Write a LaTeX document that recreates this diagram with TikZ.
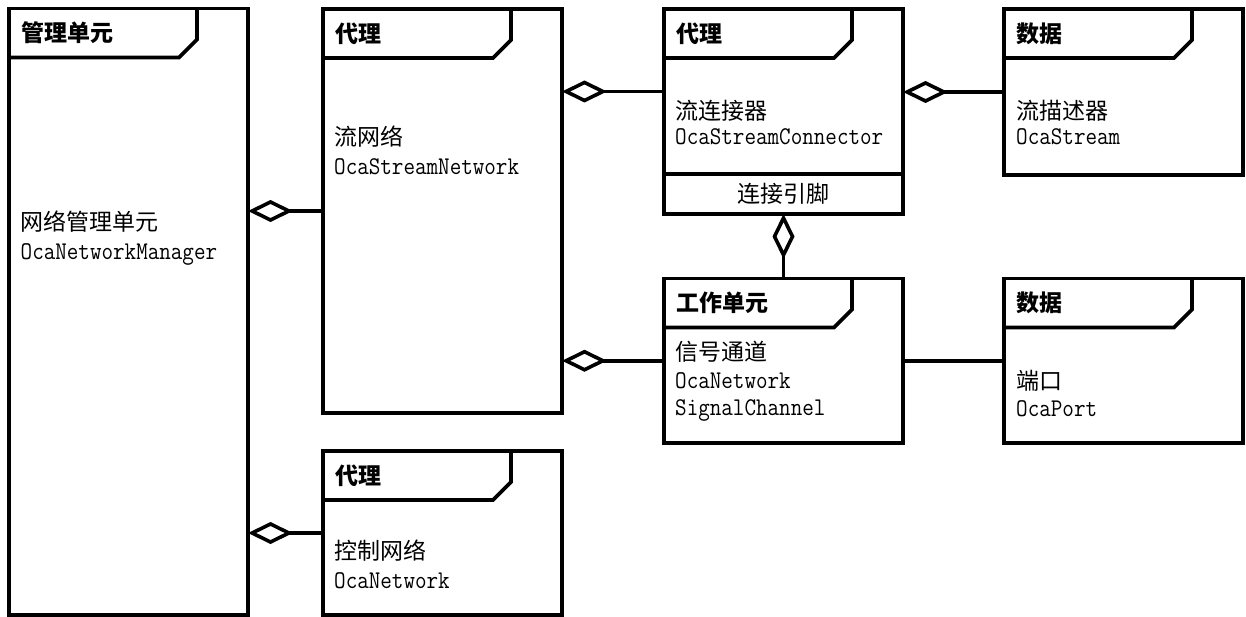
\documentclass[tikz,border=0pt]{standalone}
\usepackage{fontspec}
\newfontfamily\zhfont{Noto Sans CJK SC}
\usetikzlibrary{arrows.meta, positioning}
% narrow mono for class names
\newcommand\narrowtt[1]{\scalebox{0.88}[1]{#1}}

\begin{document}
\begin{tikzpicture}[x=1pt, y=-1pt,
  box/.style={draw, line width=3.6pt, minimum width=239pt, inner sep=0pt, outer sep=0pt, anchor=north west},
  link/.style={line width=3.6pt},
  agg/.style={line width=3.6pt, -{Diamond[open, length=45pt, width=22pt]}},
  headtxt/.style={font=\zhfont\bfseries\fontsize{23}{23}\selectfont, inner sep=0pt, anchor=west},
  zhtxt/.style={font=\zhfont\fontsize{23}{23}\selectfont, inner sep=0pt, anchor=base west},
  entxt/.style={font=\ttfamily\fontsize{25.5}{25.5}\selectfont, inner sep=0pt, anchor=base west}]
\useasboundingbox (0,0) rectangle (1246,617);

% class frames
\node[box, minimum height=606.5pt] (mgr) at (9,8.5) {};
\node[box, minimum height=404pt] (strnet) at (323,9) {};
\node[box, minimum height=164pt] (ctlnet) at (323,451) {};
\node[box, minimum height=165pt] (conn) at (664,9) {};
\node[box, minimum height=40pt, below=0pt of conn, font=\zhfont\fontsize{23}{23}\selectfont] (pins) {连接引脚};
\node[box, minimum height=166pt] (strdesc) at (1004,9) {};
\node[box, minimum height=164.5pt] (chan) at (664,278.5) {};
\node[box, minimum height=164.5pt] (port) at (1004,278.5) {};

% name tabs
\draw[link] ([xshift=188pt]mgr.north west) -- ++(0,31) -- ++(-18,18) -- ([yshift=-49pt]mgr.north west);
\draw[link] ([xshift=188pt]strnet.north west) -- ++(0,31) -- ++(-18,18) -- ([yshift=-49pt]strnet.north west);
\draw[link] ([xshift=188pt]ctlnet.north west) -- ++(0,31) -- ++(-18,18) -- ([yshift=-49pt]ctlnet.north west);
\draw[link] ([xshift=188pt]conn.north west) -- ++(0,31) -- ++(-18,18) -- ([yshift=-49pt]conn.north west);
\draw[link] ([xshift=188pt]strdesc.north west) -- ++(0,31) -- ++(-18,18) -- ([yshift=-49pt]strdesc.north west);
\draw[link] ([xshift=188pt]chan.north west) -- ++(0,31) -- ++(-18,18) -- ([yshift=-49pt]chan.north west);
\draw[link] ([xshift=188pt]port.north west) -- ++(0,31) -- ++(-18,18) -- ([yshift=-49pt]port.north west);

\node[headtxt] (mgr-head) at ([xshift=12pt, yshift=-24.5pt]mgr.north west) {管理单元};
\node[headtxt] (strnet-head) at ([xshift=12pt, yshift=-24.5pt]strnet.north west) {代理};
\node[headtxt] (ctlnet-head) at ([xshift=12pt, yshift=-24.5pt]ctlnet.north west) {代理};
\node[headtxt] (conn-head) at ([xshift=12pt, yshift=-24.5pt]conn.north west) {代理};
\node[headtxt] (strdesc-head) at ([xshift=12pt, yshift=-24.5pt]strdesc.north west) {数据};
\node[headtxt] (chan-head) at ([xshift=12pt, yshift=-24.5pt]chan.north west) {工作单元};
\node[headtxt] (port-head) at ([xshift=12pt, yshift=-24.5pt]port.north west) {数据};

% class names
\node[zhtxt] (mgr-zh) at (20.5,230.7) {网络管理单元};
\node[entxt] (mgr-en) at (20.5,259.5) {\narrowtt{OcaNetworkManager}};
\node[zhtxt] (strnet-zh) at (334,145.7) {流网络};
\node[entxt] (strnet-en) at (334,174.5) {\narrowtt{OcaStreamNetwork}};
\node[zhtxt] (ctlnet-zh) at (334,559) {控制网络};
\node[entxt] (ctlnet-en) at (334,588) {\narrowtt{OcaNetwork}};
\node[zhtxt] (conn-zh) at (675,120) {流连接器};
\node[entxt] (conn-en) at (675,144.5) {\narrowtt{OcaStreamConnector}};
\node[zhtxt] (strdesc-zh) at (1016,120) {流描述器};
\node[entxt] (strdesc-en) at (1016,144.5) {\narrowtt{OcaStream}};
\node[zhtxt] (chan-zh) at (675,360.7) {信号通道};
\node[entxt] (chan-en) at (675,388) {\narrowtt{OcaNetwork}};
\node[entxt] (chan-en2) at (675,415) {\narrowtt{SignalChannel}};
\node[zhtxt] (port-zh) at (1016,389) {端口};
\node[entxt] (port-en) at (1016,416) {\narrowtt{OcaPort}};

% aggregation links
\draw[agg] (strnet.west) -- (strnet.west -| mgr.east);
\draw[agg] (ctlnet.west) -- (ctlnet.west -| mgr.east);
\draw[agg] (conn.west) -- (conn.west -| strnet.east);
\draw[agg] (chan.west) -- (chan.west -| strnet.east);
\draw[agg] (strdesc.west) -- (strdesc.west -| conn.east);
\draw[agg] (chan.north) -- (pins.south);
\draw[link] (chan.east) -- (port.west);
\end{tikzpicture}
\end{document}
